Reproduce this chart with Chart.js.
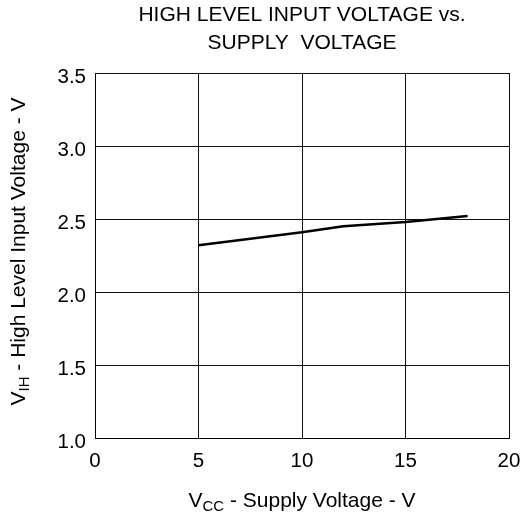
<!DOCTYPE html>
<html>
<head>
<meta charset="utf-8">
<script src="https://cdn.jsdelivr.net/npm/chart.js@4.4.1/dist/chart.umd.min.js"></script>
<style>
  html, body { margin: 0; padding: 0; background: #fff; }
  #wrap { width: 522px; height: 518px; }
</style>
</head>
<body>
<div id="wrap"><canvas id="c" width="522" height="518"></canvas></div>
<script>
// Supply voltage (V) and high level input voltage (V)
const supplyVoltage = [5, 10, 12, 15, 18];
const inputHighVoltage = [2.32, 2.41, 2.45, 2.48, 2.52];
const xTicks = [0, 5, 10, 15, 20];
const yTicks = [1.0, 1.5, 2.0, 2.5, 3.0, 3.5];

const titleLines = ['HIGH LEVEL INPUT VOLTAGE vs.', 'SUPPLY  VOLTAGE'];
const FONT = '"Liberation Sans", Arial, sans-serif';

// Draws text with a subscript part: [main, sub, rest]
function drawSubText(ctx, parts, size, cx, cy) {
  const [a, sub, b] = parts;
  const subSize = Math.round(size * 0.72);
  ctx.font = size + 'px ' + FONT;
  const wa = ctx.measureText(a).width;
  const wb = ctx.measureText(b).width;
  ctx.font = subSize + 'px ' + FONT;
  const ws = ctx.measureText(sub).width;
  let x = cx - (wa + ws + wb) / 2;
  ctx.textBaseline = 'middle';
  ctx.textAlign = 'left';
  ctx.font = size + 'px ' + FONT;
  ctx.fillText(a, x, cy);
  x += wa;
  ctx.font = subSize + 'px ' + FONT;
  ctx.fillText(sub, x, cy + size * 0.3);
  x += ws;
  ctx.font = size + 'px ' + FONT;
  ctx.fillText(b, x, cy);
}

const labelsPlugin = {
  id: 'labels',
  afterDraw(chart) {
    const ctx = chart.ctx;
    const area = chart.chartArea;
    const cx = (area.left + area.right) / 2;
    ctx.save();
    ctx.fillStyle = '#000';
    ctx.font = '21px ' + FONT;
    ctx.textAlign = 'center';
    ctx.textBaseline = 'middle';
    ctx.fillText(titleLines[0], cx, 15);
    ctx.fillText(titleLines[1], cx, 43);
    drawSubText(ctx, ['V', 'CC', ' - Supply Voltage - V'], 21, cx, 501);
    ctx.translate(19, (area.top + area.bottom) / 2 - 4);
    ctx.rotate(-Math.PI / 2);
    drawSubText(ctx, ['V', 'IH', ' - High Level Input Voltage - V'], 21, 0, 0);
    ctx.restore();
  }
};

new Chart(document.getElementById('c'), {
  type: 'line',
  data: {
    datasets: [{
      data: supplyVoltage.map((v, i) => ({ x: v, y: inputHighVoltage[i] })),
      borderColor: '#000',
      borderWidth: 2.5,
      pointRadius: 0,
      tension: 0,
      fill: false
    }]
  },
  options: {
    responsive: false,
    animation: false,
    devicePixelRatio: 1,
    layout: { padding: { top: 73, right: 13, left: 0, bottom: 0 } },
    plugins: { legend: { display: false }, tooltip: { enabled: false } },
    scales: {
      x: {
        type: 'linear',
        min: 0, max: 20,
        afterBuildTicks(scale) { scale.ticks = xTicks.map(v => ({ value: v })); },
        afterFit(scale) { scale.height = 80; scale.paddingRight = 0; scale.paddingLeft = 0; },
        grid: { color: '#111', lineWidth: 1, drawTicks: false },
        border: { color: '#000', width: 1 },
        ticks: { color: '#000', padding: 11, font: { family: FONT, size: 20.5 }, maxRotation: 0 }
      },
      y: {
        type: 'linear',
        min: 1.0, max: 3.5,
        afterBuildTicks(scale) { scale.ticks = yTicks.map(v => ({ value: v })); },
        afterFit(scale) { scale.width = 95; scale.paddingTop = 0; scale.paddingBottom = 0; },
        grid: { color: '#111', lineWidth: 1, drawTicks: false },
        border: { color: '#000', width: 1 },
        ticks: {
          color: '#000', padding: 9, labelOffset: 4,
          font: { family: FONT, size: 20.5 },
          callback: v => v.toFixed(1)
        }
      }
    }
  },
  plugins: [labelsPlugin]
});
</script>
</body>
</html>
